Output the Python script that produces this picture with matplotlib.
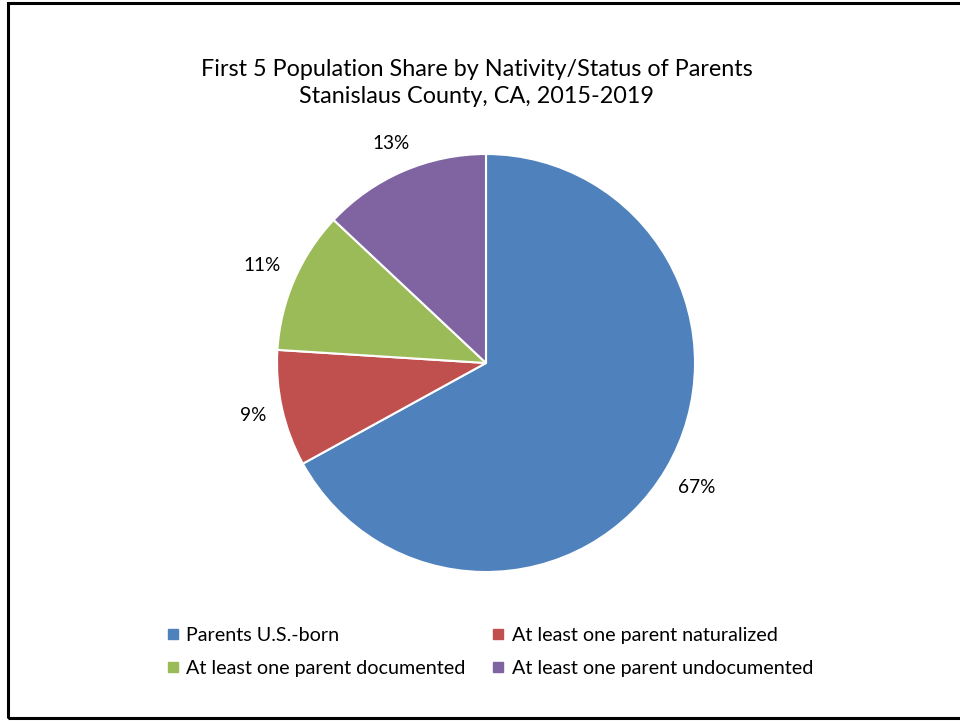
import numpy as np
import matplotlib
matplotlib.use("Agg")
import matplotlib.pyplot as plt
from matplotlib.lines import Line2D
from matplotlib.patches import Rectangle

categories = ["Parents U.S.-born", "At least one parent naturalized",
              "At least one parent documented", "At least one parent undocumented"]
values = [67, 9, 11, 13]
colors = ["#4F81BD", "#C0504D", "#9BBB59", "#8064A2"]
title = "First 5 Population Share by Nativity/Status of Parents\nStanislaus County, CA, 2015-2019"

plt.rcParams['font.family'] = ['Lato', 'DejaVu Sans']

W, H = 960, 721
fig = plt.figure(figsize=(W / 100, H / 100), dpi=100)

# outer frame
fig.add_artist(Rectangle((8 / W, 3 / H), 1.1, (H - 6) / H, transform=fig.transFigure,
                         fill=False, edgecolor="black", linewidth=2.2))

cx, cy, r = 486, 363, 209
ax = fig.add_axes([(cx - r) / W, (H - cy - r) / H, 2 * r / W, 2 * r / H])
wedges, texts, autotexts = ax.pie(values, colors=colors, startangle=90, counterclock=False,
                                  autopct=lambda p: f"{p:.0f}%", pctdistance=1.16,
                                  wedgeprops=dict(edgecolor="white", linewidth=1.5),
                                  textprops=dict(fontsize=13.7, color="#000000"))
ax.set_aspect("equal")
ax.set_xlim(-1, 1)
ax.set_ylim(-1, 1)

# place labels "outside end": label box just outside the pie edge along the mid-angle
renderer = fig.canvas.get_renderer()
gap = 15 / r
for w, t in zip(wedges, autotexts):
    ang = np.deg2rad(0.5 * (w.theta1 + w.theta2))
    ux, uy = np.cos(ang), np.sin(ang)
    bb = t.get_window_extent(renderer)
    hw, hh = bb.width / 2 / r, bb.height / 2 / r
    d = 1 + gap + hw * abs(ux) + hh * abs(uy)
    t.set_position((d * ux, d * uy))
    t.set_ha("center")
    t.set_va("center")

fig.text(0.5 * (203 + 750) / W, 1 - 83 / H, title, ha="center", va="center",
         fontsize=16.8, linespacing=1.38)

# legend in row-major order (matplotlib fills column-major)
order = [0, 2, 1, 3]
handles = [Line2D([0], [0], marker="s", linestyle="none", markersize=7.2,
                  markerfacecolor=colors[i], markeredgecolor=colors[i]) for i in order]
labels = [categories[i] for i in order]
fig.legend(handles, labels, ncol=2, loc="center", bbox_to_anchor=(490 / W, 1 - 652 / H),
           frameon=False, fontsize=14.2, handlelength=0.6, handletextpad=0.4,
           columnspacing=1.35, labelspacing=0.8)

fig.savefig("out.png", dpi=100)
